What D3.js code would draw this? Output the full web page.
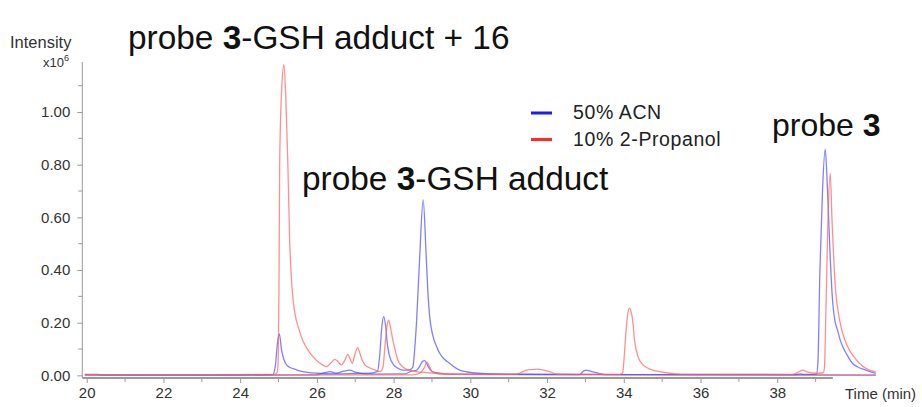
<!DOCTYPE html>
<html>
<head>
<meta charset="utf-8">
<script src="https://cdn.jsdelivr.net/npm/d3@7"></script>
<style>
    html, body { margin: 0; padding: 0; background: #fff; }
    svg { display: block; font-family: "Liberation Sans", Arial, sans-serif; }
    .axis path, .axis line { stroke: #9a9a9a; }
    .axis text { fill: #333; font-size: 15px; font-family: "Liberation Sans", Arial, sans-serif; }
    .trace { fill: none; stroke-width: 1.3; stroke-linejoin: round; }
</style>
</head>
<body>
<div id="chart"></div>
<script>
// 数据: [时间 (min), 强度 (x10^6)]
const blueMain = [
    [19.95, 0.004], [20.3, 0.004], [20.4, 0.002], [22, 0.002], [24, 0.002], [24.85, 0.003],
    [24.92, 0.04], [24.97, 0.12], [25.02, 0.157], [25.08, 0.096], [25.14, 0.06], [25.21, 0.04],
    [25.3, 0.03], [25.42, 0.024], [25.55, 0.017], [25.75, 0.011], [26.0, 0.008], [26.5, 0.006],
    [27.0, 0.007], [27.4, 0.008], [27.58, 0.015], [27.64, 0.08], [27.69, 0.18], [27.74, 0.223],
    [27.79, 0.19], [27.84, 0.115], [27.9, 0.07], [28.0, 0.04], [28.1, 0.028], [28.25, 0.02],
    [28.4, 0.02], [28.5, 0.03], [28.55, 0.1], [28.6, 0.21], [28.68, 0.45], [28.77, 0.666],
    [28.85, 0.45], [28.9, 0.3], [28.94, 0.223], [29.03, 0.147], [29.12, 0.11], [29.2, 0.084],
    [29.33, 0.06], [29.46, 0.046], [29.6, 0.03], [29.72, 0.02], [30.07, 0.01], [30.5, 0.006],
    [31, 0.004], [32.8, 0.003], [38.5, 0.003], [38.6, 0.006], [38.7, 0.004], [39.02, 0.005],
    [39.06, 0.05], [39.11, 0.388], [39.18, 0.704], [39.25, 0.859], [39.31, 0.704], [39.38, 0.45],
    [39.44, 0.286], [39.5, 0.21], [39.57, 0.172], [39.65, 0.13], [39.75, 0.096], [39.85, 0.07],
    [39.96, 0.046], [40.1, 0.032], [40.31, 0.02], [40.57, 0.008]
];
const blueMinor = [
    [19.95, 0.001], [24, 0.001], [26.0, 0.002], [26.2, 0.01], [26.34, 0.014], [26.5, 0.008],
    [26.7, 0.016], [26.86, 0.02], [27.0, 0.012], [27.3, 0.005], [28.3, 0.006], [28.45, 0.015],
    [28.6, 0.02], [28.68, 0.035], [28.76, 0.054], [28.81, 0.056], [28.88, 0.04], [28.95, 0.022],
    [29.1, 0.01], [29.5, 0.004], [32.85, 0.003], [32.95, 0.016], [33.02, 0.02], [33.15, 0.015],
    [33.28, 0.01], [33.5, 0.003], [40.57, 0.001]
];
const redMain = [
    [19.95, 0.003], [22, 0.003], [24.9, 0.004], [24.96, 0.01], [24.99, 0.05], [25.01, 0.3],
    [25.03, 0.8], [25.08, 1.08], [25.14, 1.18], [25.19, 1.05], [25.24, 0.82], [25.29, 0.514],
    [25.33, 0.38], [25.38, 0.286], [25.44, 0.225], [25.51, 0.185], [25.64, 0.13], [25.77, 0.096],
    [25.9, 0.07], [26.03, 0.052], [26.15, 0.04], [26.25, 0.033], [26.37, 0.048], [26.47, 0.061],
    [26.55, 0.052], [26.64, 0.04], [26.72, 0.055], [26.81, 0.08], [26.86, 0.065], [26.92, 0.046],
    [26.99, 0.08], [27.06, 0.105], [27.12, 0.085], [27.18, 0.058], [27.25, 0.04], [27.38, 0.028],
    [27.51, 0.021], [27.64, 0.014], [27.72, 0.03], [27.78, 0.12], [27.83, 0.19], [27.87, 0.21],
    [27.92, 0.18], [27.98, 0.134], [28.05, 0.09], [28.11, 0.058], [28.2, 0.038], [28.29, 0.027],
    [28.46, 0.018], [28.7, 0.012], [29.0, 0.009], [29.5, 0.006], [30.5, 0.004], [31.2, 0.004],
    [31.3, 0.01], [31.37, 0.014], [31.46, 0.02], [31.6, 0.022], [31.76, 0.024], [31.92, 0.02],
    [32.07, 0.014], [32.24, 0.005], [33.9, 0.004], [33.97, 0.01], [34.01, 0.07], [34.04, 0.134],
    [34.1, 0.23], [34.15, 0.255], [34.2, 0.235], [34.23, 0.21], [34.28, 0.134], [34.37, 0.071],
    [34.5, 0.04], [34.62, 0.028], [34.76, 0.02], [35.1, 0.01], [35.5, 0.005], [38.4, 0.004],
    [38.55, 0.012], [38.66, 0.02], [38.8, 0.012], [39.0, 0.008], [39.2, 0.01], [39.23, 0.03],
    [39.27, 0.26], [39.32, 0.578], [39.38, 0.768], [39.43, 0.578], [39.48, 0.42], [39.52, 0.324],
    [39.58, 0.25], [39.66, 0.185], [39.76, 0.135], [39.88, 0.096], [40.0, 0.07], [40.14, 0.046],
    [40.4, 0.02], [40.57, 0.014]
];
const redMinor = [
    [19.95, 0.001], [28.5, 0.002], [28.7, 0.01], [28.8, 0.03], [28.87, 0.05], [28.93, 0.035],
    [29.0, 0.015], [29.2, 0.005], [40.57, 0.001]
];

const yTicks = [0, 0.2, 0.4, 0.6, 0.8, 1.0];
const yMinorTicks = [0.1, 0.3, 0.5, 0.7, 0.9, 1.1];
const xTicks = [20, 22, 24, 26, 28, 30, 32, 34, 36, 38];
const xMinorTicks = [21, 23, 25, 27, 29, 31, 33, 35, 37, 39];
const legendItems = ["50% ACN", "10% 2-Propanol"];

const width = 922, height = 407;
const blueColor = "#4f4fff", redColor = "#ff6464";

let svg = d3.select("#chart").append("svg")
    .attr("width", width)
    .attr("height", height);

// 比例尺
let x = d3.scaleLinear().domain([19.885, 40.6]).range([82.3, 877]);
let y = d3.scaleLinear().domain([-0.01, 1.19]).range([378, 62]);

// x 轴
let xAxis = svg.append("g")
    .attr("class", "axis")
    .attr("transform", `translate(0,${y(-0.01)})`)
    .call(d3.axisBottom(x).tickValues(xTicks).tickSize(5).tickPadding(4).tickFormat(d3.format("d")));
xAxis.select(".domain")
    .attr("d", `M${x(19.885)},0H${x(39.45)}`)
    .attr("stroke-width", 2);
xAxis.append("g")
    .selectAll("line")
    .data(xMinorTicks)
    .join("line")
    .attr("x1", d => x(d)).attr("x2", d => x(d))
    .attr("y1", 0).attr("y2", 4);

// y 轴
let yAxis = svg.append("g")
    .attr("class", "axis")
    .attr("transform", `translate(${x(19.885)},0)`)
    .call(d3.axisLeft(y).tickValues(yTicks).tickSize(5).tickPadding(7).tickFormat(d3.format(".2f")));
yAxis.select(".domain").attr("d", `M0,${y(1.19)}V${y(-0.01)}`);
yAxis.append("g")
    .selectAll("line")
    .data(yMinorTicks)
    .join("line")
    .attr("x1", -4).attr("x2", 0)
    .attr("y1", d => y(d)).attr("y2", d => y(d));

// 轴标题
svg.append("text")
    .attr("x", 10).attr("y", 48)
    .attr("font-size", 16.5).attr("fill", "#333")
    .text("Intensity");
let unit = svg.append("text")
    .attr("x", 43).attr("y", 67)
    .attr("font-size", 13).attr("fill", "#333");
unit.append("tspan").text("x10");
unit.append("tspan").attr("font-size", 9).attr("dy", -6).text("6");
svg.append("text")
    .attr("x", 845).attr("y", 399)
    .attr("font-size", 15).attr("fill", "#333")
    .text("Time (min)");

// 色谱曲线
let line = d3.line()
    .x(d => x(d[0]))
    .y(d => y(d[1]))
    .curve(d3.curveMonotoneX);

let traces = [
    {data: blueMinor, color: blueColor},
    {data: redMinor, color: redColor},
    {data: blueMain, color: blueColor},
    {data: redMain, color: redColor}
];
svg.append("g")
    .selectAll("path")
    .data(traces)
    .join("path")
    .attr("class", "trace")
    .attr("stroke", d => d.color)
    .attr("stroke-opacity", 0.72)
    .attr("d", d => line(d.data));

// 图例
let legend = svg.append("g").attr("transform", "translate(531,113)");
legend.selectAll("line")
    .data(legendItems)
    .join("line")
    .attr("x1", 0).attr("x2", 21)
    .attr("y1", (d, i) => i * 26.5).attr("y2", (d, i) => i * 26.5)
    .attr("stroke", (d, i) => i === 0 ? "#1a1aff" : "#ff2a2a")
    .attr("stroke-width", 3);
legend.selectAll("text")
    .data(legendItems)
    .join("text")
    .attr("x", 42)
    .attr("y", (d, i) => i * 26.5 + 6)
    .attr("font-size", 19.5)
    .attr("letter-spacing", 0.6)
    .attr("fill", "#222")
    .text(d => d);

// 峰注释
function label(xPos, yPos, size, rest) {
    let t = svg.append("text")
        .attr("x", xPos).attr("y", yPos)
        .attr("font-size", size).attr("fill", "#111");
    t.append("tspan").text("probe ");
    t.append("tspan").attr("font-weight", "bold").text("3");
    if (rest) t.append("tspan").text(rest);
}
label(128, 49, 33.4, "-GSH adduct + 16");
label(302, 190, 33.4, "-GSH adduct");
label(772, 136, 32, "");
</script>
</body>
</html>
